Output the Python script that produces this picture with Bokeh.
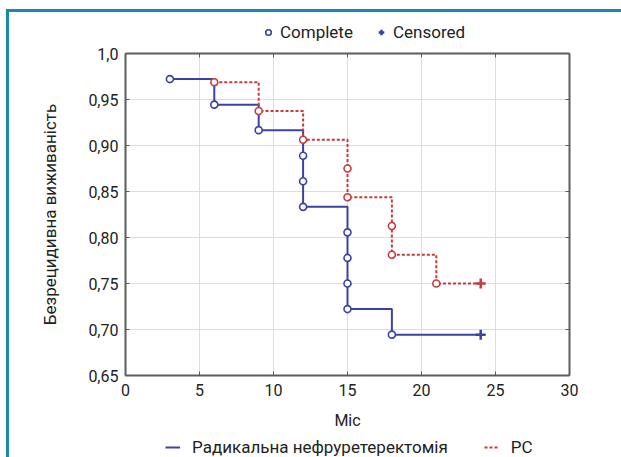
from bokeh.plotting import figure
from bokeh.layouts import column
from bokeh.models import LinearAxis, FixedTicker, Legend, LegendItem, Range1d
from bokeh.embed import file_html
from bokeh.resources import INLINE

# ---- data ----
x_ticks = [0, 5, 10, 15, 20, 25, 30]
y_ticks = [0.65, 0.70, 0.75, 0.80, 0.85, 0.90, 0.95, 1.0]
y_tick_labels = ["0,65", "0,70", "0,75", "0,80", "0,85", "0,90", "0,95", "1,0"]

rn_event_t = [3, 6, 9, 12, 12, 12, 15, 15, 15, 15, 18]
rn_event_s = [0.9722, 0.9444, 0.9167, 0.8889, 0.8611, 0.8333, 0.8056, 0.7778, 0.7500, 0.7222, 0.6944]
rn_cens_t = [24]
rn_cens_s = [0.6944]

pc_event_t = [6, 9, 12, 15, 15, 18, 18, 21]
pc_event_s = [0.9688, 0.9375, 0.9063, 0.8750, 0.8438, 0.8125, 0.7813, 0.7500]
pc_cens_t = [24]
pc_cens_s = [0.7500]

rn_label = "Радикальна нефруретеректомія"
pc_label = "PC"
x_label = "Міс"
y_label = "Безрецидивна виживаність"
marker_labels = ["Complete", "Censored"]

# ---- styles ----
FONT = "Roboto"
TXT = "#222222"
BLUE = "#3a42a4"
RED = "#c9393b"
AXC = "#5a5f5a"
TEAL = "#1a8ba7"
W = 621
TOP_H = 44
MAIN_H = 388
BOT_H = 25

# ================= main chart =================
p = figure(width=W, height=MAIN_H,
           x_range=Range1d(0, 30), y_range=Range1d(0.65, 1.0),
           output_backend="svg", toolbar_location=None,
           min_border_left=125, min_border_right=52,
           min_border_top=9, min_border_bottom=55,
           x_axis_label=x_label, y_axis_label=y_label)

p.outline_line_color = None
p.background_fill_color = "white"
p.border_fill_color = None

bottom_axis = p.below[0]
left_axis = p.left[0]
top_axis = LinearAxis()
right_axis = LinearAxis()
p.add_layout(top_axis, "above")
p.add_layout(right_axis, "right")

for ax in (bottom_axis, top_axis):
    ax.ticker = FixedTicker(ticks=x_ticks)
for ax in (left_axis, right_axis):
    ax.ticker = FixedTicker(ticks=y_ticks)

left_axis.major_label_overrides = {t: l for t, l in zip(y_ticks, y_tick_labels)}
top_axis.major_label_overrides = {t: "" for t in x_ticks}
right_axis.major_label_overrides = {t: "" for t in y_ticks}

for ax in p.axis:
    ax.axis_line_color = AXC
    ax.axis_line_width = 2
    ax.major_tick_line_color = AXC
    ax.major_tick_line_width = 1
    ax.major_tick_in = 4
    ax.major_tick_out = 0
    ax.minor_tick_line_color = None
    ax.major_label_text_font = FONT
    ax.major_label_text_font_size = "16px"
    ax.major_label_text_color = TXT
    ax.axis_label_text_font = FONT
    ax.axis_label_text_font_size = "16px"
    ax.axis_label_text_color = TXT
    ax.axis_label_text_font_style = "normal"

top_axis.major_label_standoff = 0
right_axis.major_label_standoff = 0
bottom_axis.major_label_standoff = 8
bottom_axis.axis_label_standoff = 12
left_axis.major_label_standoff = 7
left_axis.axis_label_standoff = 25
left_axis.axis_label_text_font_size = "17px"

p.xgrid.ticker = FixedTicker(ticks=x_ticks)
p.ygrid.ticker = FixedTicker(ticks=y_ticks)
p.grid.grid_line_color = "#dddddd"
p.grid.grid_line_width = 1

p.step(rn_event_t + rn_cens_t, rn_event_s + rn_cens_s, mode="after",
       line_color=BLUE, line_width=2)
p.step(pc_event_t + pc_cens_t, pc_event_s + pc_cens_s, mode="after",
       line_color=RED, line_width=2, line_dash="3 2")
p.scatter(rn_event_t, rn_event_s, marker="circle", size=7,
          fill_color="white", line_color=BLUE, line_width=1.6)
p.scatter(pc_event_t, pc_event_s, marker="circle", size=7,
          fill_color="white", line_color=RED, line_width=1.6)
p.scatter(rn_cens_t, rn_cens_s, marker="cross", size=10,
          line_color=BLUE, line_width=2.5)
p.scatter(pc_cens_t, pc_cens_s, marker="cross", size=10,
          line_color=RED, line_width=2.5)


# ================= legend strips =================
def strip(h):
    f = figure(width=W, height=h, x_range=Range1d(0, 1), y_range=Range1d(0, 1),
               output_backend="svg", toolbar_location=None, min_border=0)
    f.axis.visible = False
    f.grid.visible = False
    f.outline_line_color = None
    f.background_fill_color = None
    f.border_fill_color = None
    return f


def style_legend(lg):
    lg.label_text_font = FONT
    lg.label_text_font_size = "17px"
    lg.label_text_color = TXT
    lg.border_line_color = None
    lg.background_fill_alpha = 0
    lg.padding = 0
    lg.margin = 0
    lg.orientation = "horizontal"


# legend key glyphs: one point each, kept outside the strip's visible range
KEY_X = [-5]
KEY_Y = [-5]

top = strip(TOP_H)
k_circ = top.scatter(KEY_X, KEY_Y, marker="circle", size=7, fill_color="white",
                     line_color=BLUE, line_width=1.6)
k_cross = top.scatter(KEY_X, KEY_Y, marker="cross", size=9, line_color=BLUE, line_width=2.5)
top_legend = Legend(items=[LegendItem(label=marker_labels[0], renderers=[k_circ]),
                           LegendItem(label=marker_labels[1], renderers=[k_cross])],
                    location=(136, 2), glyph_width=14, glyph_height=16,
                    label_height=16, label_standoff=5, spacing=21)
style_legend(top_legend)
top.add_layout(top_legend)

bot = strip(BOT_H)
k_rn = bot.line(KEY_X * 2, KEY_Y * 2, line_color=BLUE, line_width=2)
k_pc = bot.line(KEY_X * 2, KEY_Y * 2, line_color=RED, line_width=2, line_dash="3 2")
bottom_legend = Legend(items=[LegendItem(label=rn_label, renderers=[k_rn]),
                              LegendItem(label=pc_label, renderers=[k_pc])],
                       location=(40, 0), glyph_width=15, glyph_height=18,
                       label_standoff=12, spacing=36)
style_legend(bottom_legend)
bot.add_layout(bottom_legend)

layout = column(top, p, bot, spacing=0)
layout.styles = {
    "background": ("linear-gradient({c},{c}) 6px 9px / 3px 100% no-repeat, "
                   "linear-gradient({c},{c}) 6px 9px / 100% 3px no-repeat, #ffffff").format(c=TEAL)
}

open("out.html", "w").write(file_html(layout, INLINE))
